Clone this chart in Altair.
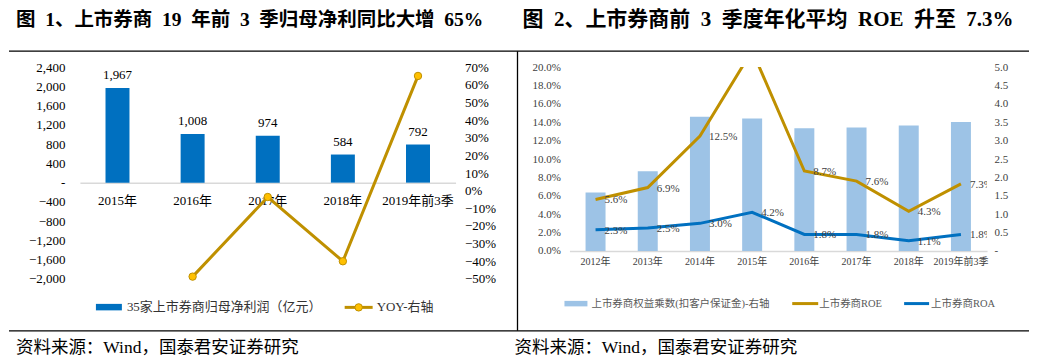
import altair as alt
import pandas as pd

# ---------------- data ----------------
years_left = ["2015年", "2016年", "2017年", "2018年", "2019年前3季"]
net_profit = [1967, 1008, 974, 584, 792]
yoy = [None, -0.487, -0.036, -0.40, 0.65]

years_right = ["2012年", "2013年", "2014年", "2015年", "2016年", "2017年", "2018年", "2019年前3季"]
leverage = [1.59, 2.17, 3.65, 3.60, 3.34, 3.36, 3.41, 3.51]
roe = [0.056, 0.069, 0.125, 0.218, 0.087, 0.076, 0.043, 0.073]
roa = [0.023, 0.025, 0.030, 0.042, 0.018, 0.018, 0.011, 0.018]

title_left = "图\u20021、上市券商\u200219\u2002年前\u20023\u2002季归母净利同比大增\u200265%"
title_right = "图\u20022、上市券商前\u20023\u2002季度年化平均\u2002ROE\u2002升至\u20027.3%"
footer = "资料来源：Wind，国泰君安证券研究"
legend_left = ["35家上市券商归母净利润（亿元）", "YOY-右轴"]
legend_right = ["上市券商权益乘数(扣客户保证金)-右轴", "上市券商ROE", "上市券商ROA"]

SERIF = "Liberation Serif, Times New Roman, Noto Sans CJK SC, serif"
GOLD = "#BF9000"
BLUE = "#0070C0"
LIGHT = "#9DC3E6"

LW, LH = 376, 212
RW, RH = 418, 184

df_left = pd.DataFrame({"year": years_left, "profit": net_profit, "yoy": yoy})
df_right = pd.DataFrame({"year": years_right, "lev": leverage, "roe": roe, "roa": roa})
one = pd.DataFrame({"t": [""]})


def txt(s, x, y, size, color="black", weight="normal", align="left", font=SERIF):
    return alt.Chart(pd.DataFrame({"t": [s]})).mark_text(
        align=align, baseline="middle", fontSize=size, color=color,
        fontWeight=weight, font=font
    ).encode(text="t:N", x=alt.value(x), y=alt.value(y))


def hline(x1, x2, y, color="black", w=1.3):
    return alt.Chart(one).mark_rule(color=color, strokeWidth=w).encode(
        x=alt.value(x1), x2=alt.value(x2), y=alt.value(y))


def vline(x, y1, y2, color="black", w=1.3):
    return alt.Chart(one).mark_rule(color=color, strokeWidth=w).encode(
        x=alt.value(x), y=alt.value(y1), y2=alt.value(y2))


# ---------------- left panel ----------------
xl = alt.X("year:N", sort=years_left, scale=alt.Scale(paddingInner=0, paddingOuter=0),
           axis=alt.Axis(title=None, labelAngle=0, ticks=False, domainColor="#D9D9D9",
                         domainWidth=1.5, labelFont=SERIF, labelFontSize=13,
                         labelColor="black", labelBaseline="middle", labelPadding=18,
                         labelOverlap=False, offset=-(LH - LH * 2400 / 4400)))

ax_profit = alt.Axis(title=None, values=list(range(-2000, 2401, 400)),
                     labelExpr="datum.value == 0 ? '-' : format(datum.value, ',')",
                     grid=False, ticks=False, domain=False, labelPadding=15,
                     labelOverlap=False, labelFont=SERIF, labelFontSize=13,
                     labelColor="black")
sc_profit = alt.Scale(domain=[-2000, 2400], nice=False, zero=False)

bars_l = alt.Chart(df_left).mark_bar(size=24, color=BLUE).encode(
    x=xl, y=alt.Y("profit:Q", scale=sc_profit, axis=ax_profit))
bar_txt_l = alt.Chart(df_left).mark_text(dy=-13, baseline="middle", font=SERIF,
                                          fontSize=13, color="black").encode(
    x=alt.X("year:N", sort=years_left),
    y=alt.Y("profit:Q", scale=sc_profit, axis=ax_profit),
    text=alt.Text("profit:Q", format=","))

yoy_vals = [round(-0.5 + 0.1 * i, 2) for i in range(13)]
ax_yoy = alt.Axis(orient="right", title=None, values=yoy_vals, format=".0%",
                  grid=False, ticks=False, domain=False, labelPadding=9,
                  labelOverlap=False, labelFont=SERIF, labelFontSize=13,
                  labelColor="black")
sc_yoy = alt.Scale(domain=[-0.5, 0.7], nice=False, zero=False)
line_l = alt.Chart(df_left).mark_line(color=GOLD, strokeWidth=3).encode(
    x=alt.X("year:N", sort=years_left), y=alt.Y("yoy:Q", scale=sc_yoy, axis=ax_yoy))
pts_l = alt.Chart(df_left).mark_point(filled=True, size=55, fill="#FFC000", stroke=GOLD,
                                      strokeWidth=1, opacity=1).encode(
    x=alt.X("year:N", sort=years_left), y=alt.Y("yoy:Q", scale=sc_yoy, axis=ax_yoy))

left_bars = alt.layer(bars_l, bar_txt_l)
left_line = alt.layer(line_l, pts_l)

ox, oy = 78, 66
left_deco = [
    alt.Chart(one).mark_rule(color="white", strokeWidth=1).encode(
        x=alt.value(8 - ox), x2=alt.value(9 - ox), y=alt.value(8 - oy)),
    txt(title_left, 14 - ox, 18.5 - oy, 19.5, weight="bold"),
    hline(7 - ox, 1028 - ox, 50 - oy),
    vline(516 - ox, 50 - oy, 330 - oy),
    hline(7 - ox, 1028 - ox, 330 - oy),
    txt(footer, 14 - ox, 347.5 - oy, 17.5),
    txt(footer, 513 - ox, 347 - oy, 17.5),
    alt.Chart(one).mark_rect(color=BLUE).encode(
        x=alt.value(94 - ox), x2=alt.value(120 - ox), y=alt.value(303 - oy), y2=alt.value(309.5 - oy)),
    txt(legend_left[0], 125 - ox, 306.5 - oy, 13, color="#333333"),
    hline(343 - ox, 371 - ox, 306.5 - oy, color=GOLD, w=3),
    alt.Chart(one).mark_point(filled=True, size=55, fill="#FFC000", stroke=GOLD,
                              strokeWidth=1, opacity=1).encode(
        x=alt.value(357 - ox), y=alt.value(306.5 - oy)),
    txt(legend_left[1], 375 - ox, 306.5 - oy, 13, color="#333333"),
]

left = alt.layer(left_bars, left_line, *left_deco).resolve_scale(y="independent").properties(
    width=LW, height=LH)

# ---------------- right panel ----------------
xr = alt.X("year:N", sort=years_right, scale=alt.Scale(paddingInner=0, paddingOuter=0),
           axis=alt.Axis(title=None, labelAngle=0, ticks=False, domainColor="#D9D9D9",
                         domainWidth=1.5, labelFont=SERIF, labelFontSize=10,
                         labelColor="#404040", labelBaseline="middle", labelPadding=11,
                         labelOverlap=False))

bars_r = alt.Chart(df_right).mark_bar(size=20, color=LIGHT).encode(
    x=xr,
    y=alt.Y("lev:Q", scale=alt.Scale(domain=[0, 5], nice=False),
            axis=alt.Axis(orient="right", title=None, values=[i * 0.5 for i in range(11)],
                          labelExpr="datum.value == 0 ? '-' : format(datum.value, '.1f')",
                          grid=False, ticks=False, domain=False, labelPadding=7,
                          labelOverlap=False, labelFont=SERIF, labelFontSize=11,
                          labelColor="#404040")))

pct_vals = [round(0.02 * i, 2) for i in range(11)]
ax_pct = alt.Axis(title=None, values=pct_vals, format=".1%", grid=False, ticks=False,
                  domain=False, labelPadding=9, labelOverlap=False, labelFont=SERIF,
                  labelFontSize=11, labelColor="#404040")
sc_pct = alt.Scale(domain=[0, 0.2], nice=False)


def ypct(field):
    return alt.Y(field, scale=sc_pct, axis=ax_pct)


xr2 = alt.X("year:N", sort=years_right)
line_roe = alt.Chart(df_right).mark_line(color=GOLD, strokeWidth=3, clip=True).encode(
    x=xr2, y=ypct("roe:Q"))
line_roa = alt.Chart(df_right).mark_line(color=BLUE, strokeWidth=3, clip=True).encode(
    x=xr2, y=ypct("roa:Q"))
lab_roe = alt.Chart(df_right).mark_text(align="left", baseline="middle", dx=9, dy=1,
                                         font=SERIF, fontSize=11, color="#404040",
                                         clip=True).encode(
    x=xr2, y=ypct("roe:Q"), text=alt.Text("roe:Q", format=".1%"))
lab_roa = alt.Chart(df_right).mark_text(align="left", baseline="middle", dx=9, dy=1,
                                         font=SERIF, fontSize=11, color="#404040",
                                         clip=True).encode(
    x=xr2, y=ypct("roa:Q"), text=alt.Text("roa:Q", format=".1%"))
right_lines = alt.layer(line_roe, line_roa, lab_roe, lab_roa)

rx, ry = 568, 66
right_deco = [
    txt(title_right, 521 - rx, 18.5 - ry, 21, weight="bold"),
    alt.Chart(one).mark_rect(color=LIGHT).encode(
        x=alt.value(563 - rx), x2=alt.value(586 - rx), y=alt.value(300 - ry), y2=alt.value(305.5 - ry)),
    txt(legend_right[0], 590 - rx, 302.7 - ry, 10.5, color="#595959"),
    hline(791 - rx, 817 - rx, 302.7 - ry, color=GOLD, w=3),
    txt(legend_right[1], 818 - rx, 302.7 - ry, 10.5, color="#595959"),
    hline(903 - rx, 928 - rx, 302.7 - ry, color=BLUE, w=3),
    txt(legend_right[2], 930 - rx, 302.7 - ry, 10.5, color="#595959"),
]

right = alt.layer(bars_r, right_lines, *right_deco).resolve_scale(y="independent").properties(
    width=RW, height=RH)

chart = alt.hconcat(left, right, spacing=568 - 454, bounds="flush").properties(
    padding=0).configure_view(stroke=None).configure_axis(labelOverlap=False)

chart.save("out.html", embed_options={"renderer": "svg", "actions": False})
